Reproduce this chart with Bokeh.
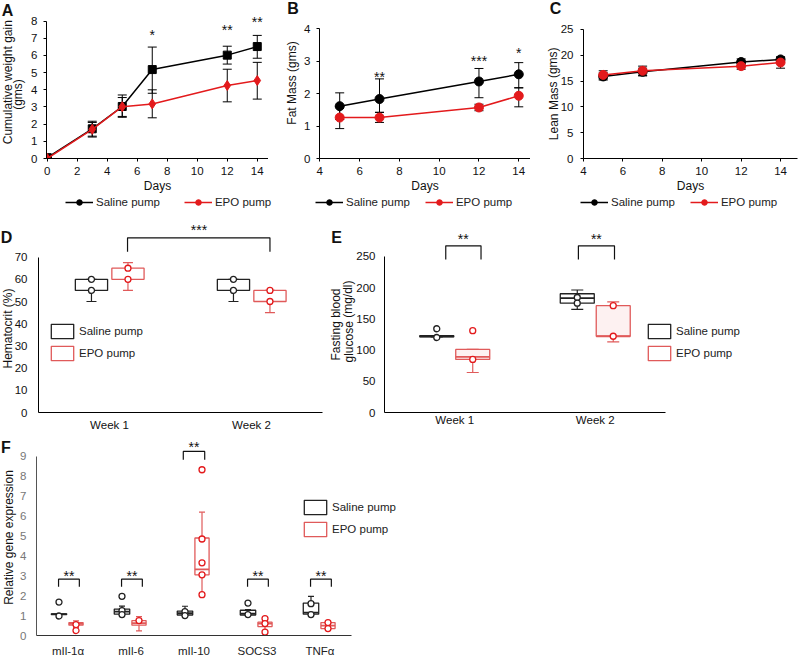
from bokeh.plotting import figure
from bokeh.layouts import row, column
from bokeh.models import (ColumnDataSource, Whisker, TeeHead, Label, Legend,
                          LegendItem, FactorRange, Range1d, FixedTicker)
from bokeh.transform import dodge
from bokeh.core.properties import value
from bokeh.embed import file_html
from bokeh.resources import INLINE

FONT = "Liberation Sans"
RED = "#e31a1c"
RED_BOX = "#e05a5a"
DARK = "#222222"
NAN = float("nan")

# ---------------- data ----------------
# Panel A: cumulative weight gain
days_a = [0, 3, 5, 7, 12, 14]
saline_a = [0.05, 1.73, 3.03, 5.18, 6.02, 6.52]
saline_a_lo = [0.05, 1.25, 2.40, 3.80, 5.50, 5.84]
saline_a_hi = [0.05, 2.17, 3.70, 6.49, 6.54, 7.17]
epo_a = [0.0, 1.70, 3.02, 3.18, 4.25, 4.54]
epo_a_lo = [0.0, 1.30, 2.45, 2.37, 3.30, 3.46]
epo_a_hi = [0.0, 2.10, 3.55, 4.00, 5.20, 5.60]
sig_a_days = [7, 12, 14]
sig_a_y = [7.19, 7.46, 7.95]
sig_a_text = ["*", "**", "**"]

# Panel B: fat mass
days_bc = [5, 7, 12, 14]
saline_b = [1.61, 1.83, 2.37, 2.59]
saline_b_lo = [1.20, 1.42, 1.87, 2.17]
saline_b_hi = [2.02, 2.45, 2.77, 2.95]
epo_b = [1.26, 1.26, 1.57, 1.93]
epo_b_lo = [0.92, 1.11, 1.47, 1.59]
epo_b_hi = [1.60, 1.42, 1.67, 2.18]
sig_b_days = [7, 12, 14]
sig_b_y = [2.51, 3.01, 3.26]
sig_b_text = ["**", "***", "*"]

# Panel C: lean mass
saline_c = [15.9, 16.8, 18.7, 19.2]
saline_c_lo = [15.2, 16.1, 18.1, 18.8]
saline_c_hi = [16.6, 17.5, 19.3, 19.6]
epo_c = [16.2, 17.0, 17.9, 18.6]
epo_c_lo = [15.4, 16.0, 17.3, 17.5]
epo_c_hi = [17.0, 17.9, 18.5, 19.7]

ticks_a_x = [0, 2, 4, 6, 8, 10, 12, 14]
ticks_a_y = [0, 1, 2, 3, 4, 5, 6, 7, 8]
ticks_bc_x = [4, 6, 8, 10, 12, 14]
ticks_b_y = [0, 1, 2, 3, 4]
ticks_c_y = [0, 5, 10, 15, 20, 25]

# Panel D: hematocrit (box stats)
weeks = ["Week 1", "Week 2"]
hct_sal_q1 = [55, 55]
hct_sal_q3 = [60, 60]
hct_sal_lo = [50, 50]
hct_sal_hi = [60, 60]
hct_sal_pts_cat = ["Week 1", "Week 1", "Week 2", "Week 2"]
hct_sal_pts = [60, 55, 60, 55]
hct_epo_q1 = [60, 50]
hct_epo_q3 = [65, 55]
hct_epo_lo = [55, 45]
hct_epo_hi = [67.5, 55]
hct_epo_pts_cat = ["Week 1", "Week 1", "Week 2", "Week 2"]
hct_epo_pts = [65, 60, 55, 50]
ticks_d_y = [0, 10, 20, 30, 40, 50, 60, 70]

# Panel E: fasting blood glucose
glu_sal_q1 = [121, 175]
glu_sal_q3 = [123, 190]
glu_sal_med = [122, 183]
glu_sal_lo = [121, 165]
glu_sal_hi = [123, 196]
glu_sal_pts_cat = ["Week 1", "Week 1", "Week 2", "Week 2"]
glu_sal_pts = [134, 120, 184, 175]
glu_epo_q1 = [85, 122]
glu_epo_q3 = [101, 171]
glu_epo_med = [89, 122]
glu_epo_lo = [64, 113]
glu_epo_hi = [101, 177]
glu_epo_pts_cat = ["Week 1", "Week 1", "Week 2", "Week 2"]
glu_epo_pts = [131, 85, 171, 122]
ticks_e_y = [0, 50, 100, 150, 200, 250]

# Panel F: relative gene expression
genes = ["mIl-1\u03b1", "mIl-6", "mIl-10", "SOCS3", "TNF\u03b1"]
gx_sal_q1 = [1.05, 1.07, 1.03, 1.03, 1.07]
gx_sal_q3 = [1.09, 1.33, 1.23, 1.27, 1.63]
gx_sal_med = [1.07, 1.20, 1.12, 1.10, 1.15]
gx_sal_lo = [1.05, 1.07, 1.00, 1.00, 1.07]
gx_sal_hi = [1.09, 1.48, 1.47, 1.30, 1.97]
gx_sal_pts_cat = [genes[0], genes[0], genes[1], genes[1], genes[1], genes[2], genes[2],
                  genes[3], genes[3], genes[4], genes[4]]
gx_sal_pts = [1.68, 0.98, 1.97, 1.25, 1.05, 1.20, 1.00, 1.63, 1.05, 1.60, 1.05]
gx_epo_q1 = [0.52, 0.52, 3.05, 0.45, 0.35]
gx_epo_q3 = [0.65, 0.75, 4.90, 0.67, 0.65]
gx_epo_med = [0.58, 0.62, 3.32, 0.60, 0.50]
gx_epo_lo = [0.40, 0.23, 2.03, 0.17, 0.35]
gx_epo_hi = [0.73, 0.95, 6.20, 0.87, 0.65]
gx_epo_pts_cat = [genes[0], genes[0], genes[1], genes[2], genes[2], genes[2], genes[2], genes[2],
                  genes[3], genes[3], genes[3], genes[4], genes[4]]
gx_epo_pts = [0.55, 0.25, 0.75, 8.33, 4.85, 3.65, 3.05, 2.05, 0.85, 0.60, 0.17, 0.65, 0.35]
ticks_f_y = [0, 1, 2, 3, 4, 5, 6, 7, 8, 9]

# Series names
SALINE = "Saline pump"
EPO = "EPO pump"


# ---------------- helpers ----------------
def make_fig(w, h, xr, yr, ml, mr, mt, mb):
    p = figure(width=w, height=h, x_range=xr, y_range=yr, output_backend="svg",
               toolbar_location=None, min_border_left=ml, min_border_right=mr,
               min_border_top=mt, min_border_bottom=mb)
    p.outline_line_color = None
    p.xgrid.visible = False
    p.ygrid.visible = False
    p.background_fill_color = "white"
    p.border_fill_color = "white"
    return p


def style_axis(ax, tick_out=0, standoff=5, color="#000000", label_color="#111111", size="11.5px"):
    ax.major_tick_out = tick_out
    ax.major_tick_in = 0
    ax.minor_tick_out = 0
    ax.minor_tick_in = 0
    ax.major_tick_line_color = color
    ax.axis_line_color = color
    ax.axis_line_width = 1
    ax.major_label_standoff = standoff
    ax.major_label_text_font = FONT
    ax.major_label_text_font_size = size
    ax.major_label_text_color = label_color


def make_legend(items, loc, orientation, spacing, gw, gh, standoff):
    return Legend(items=items, location=loc, orientation=orientation, spacing=spacing,
                  glyph_width=gw, glyph_height=gh, label_height=gh, label_standoff=standoff,
                  padding=0, margin=0, border_line_alpha=0, background_fill_alpha=0,
                  label_text_font=FONT, label_text_font_size="11.5px", label_text_color=DARK)


def add_series(p, xs, ys, lo, hi, color, marker, msize):
    src = ColumnDataSource(dict(x=xs, y=ys, lo=lo, hi=hi))
    p.add_layout(Whisker(source=src, base="x", upper="hi", lower="lo", line_color="black",
                         line_width=1,
                         upper_head=TeeHead(size=9, line_color="black", line_width=1),
                         lower_head=TeeHead(size=9, line_color="black", line_width=1)))
    p.line("x", "y", source=src, line_color=color, line_width=1.5)
    p.scatter("x", "y", source=src, marker=marker, size=msize, fill_color=color, line_color=color)


def add_stars(p, xs, ys, texts):
    src = ColumnDataSource(dict(x=xs, y=ys, t=texts))
    p.text("x", "y", text="t", source=src, text_font=value(FONT), text_font_size="14px",
           text_align="center", text_baseline="middle", text_color="#111111")


def add_boxes(p, cats, off, width, q1, q3, med, lo, hi, pcat, pval, color, pcolor, fill, cap):
    src = ColumnDataSource(dict(cat=cats, q1=q1, q3=q3, lo=lo, hi=hi))
    p.add_layout(Whisker(source=src, base=dodge("cat", off, range=p.x_range), upper="hi",
                         lower="lo", level="underlay", line_color=color, line_width=1.2,
                         upper_head=TeeHead(size=cap, line_color=color, line_width=1.2),
                         lower_head=TeeHead(size=cap, line_color=color, line_width=1.2)))
    box = p.vbar(x=dodge("cat", off, range=p.x_range), width=width, bottom="q1", top="q3",
                 source=src, fill_color=fill, line_color=color, line_width=1.3)
    if med is not None:
        msrc = ColumnDataSource(dict(cat=cats, med=med))
        p.segment(x0=dodge("cat", off - width / 2, range=p.x_range), y0="med",
                  x1=dodge("cat", off + width / 2, range=p.x_range), y1="med",
                  source=msrc, line_color=color, line_width=1.8)
    psrc = ColumnDataSource(dict(cat=pcat, v=pval))
    p.scatter(x=dodge("cat", off, range=p.x_range), y="v", source=psrc, marker="circle",
              size=6, fill_color="white", line_color=pcolor, line_width=1.3)
    return box


def add_bracket(p, cat_l, off_l, cat_r, off_r, y_end, y_top, star_y, text, star_off):
    src = ColumnDataSource(dict(x=[(cat_l, off_l), (cat_l, off_l), (cat_r, off_r), (cat_r, off_r)],
                                y=[y_end, y_top, y_top, y_end]))
    p.line("x", "y", source=src, line_color="#111111", line_width=1.2)
    add_stars(p, [(cat_l, star_off)], [star_y], [text])


# ---------------- Row 1: A, B, C ----------------
pA = make_fig(268, 220, Range1d(-0.05, 14.75), Range1d(0, 8.62), 46, 0, 10, 62)
style_axis(pA.xaxis[0], tick_out=3, standoff=5)
style_axis(pA.yaxis[0], tick_out=3, standoff=6)
pA.xaxis.ticker = FixedTicker(ticks=ticks_a_x)
pA.yaxis.ticker = FixedTicker(ticks=ticks_a_y)
pA.yaxis.bounds = (0, 8)
add_series(pA, days_a, saline_a, saline_a_lo, saline_a_hi, "black", "square", 8)
add_series(pA, days_a, epo_a, epo_a_lo, epo_a_hi, RED, "diamond", 10)
add_stars(pA, sig_a_days, sig_a_y, sig_a_text)

pB = make_fig(262, 220, Range1d(3.985, 14.59), Range1d(0, 4.554), 51, 0, 10, 62)
style_axis(pB.xaxis[0], tick_out=3, standoff=5)
style_axis(pB.yaxis[0], tick_out=3, standoff=6)
pB.xaxis.ticker = FixedTicker(ticks=ticks_bc_x)
pB.yaxis.ticker = FixedTicker(ticks=ticks_b_y)
pB.yaxis.bounds = (0, 4)
add_series(pB, days_bc, saline_b, saline_b_lo, saline_b_hi, "black", "circle", 9)
add_series(pB, days_bc, epo_b, epo_b_lo, epo_b_hi, RED, "circle", 9)
add_stars(pB, sig_b_days, sig_b_y, sig_b_text)

pC = make_fig(269, 220, Range1d(4.0, 14.86), Range1d(0, 28.68), 53, 2, 10, 62)
style_axis(pC.xaxis[0], tick_out=3, standoff=5)
style_axis(pC.yaxis[0], tick_out=3, standoff=7)
pC.xaxis.ticker = FixedTicker(ticks=ticks_bc_x)
pC.yaxis.ticker = FixedTicker(ticks=ticks_c_y)
pC.yaxis.bounds = (0, 25)
add_series(pC, days_bc, saline_c, saline_c_lo, saline_c_hi, "black", "circle", 9)
add_series(pC, days_bc, epo_c, epo_c_lo, epo_c_hi, RED, "circle", 9)

for p in (pA, pB, pC):
    p.xaxis.axis_label = "Days"
    p.xaxis.axis_label_text_font = FONT
    p.xaxis.axis_label_text_font_size = "12px"
    p.xaxis.axis_label_text_font_style = "normal"
    p.xaxis.axis_label_text_color = "#111111"
    p.xaxis.axis_label_standoff = 1

# ---------------- Row 2: D, E ----------------
pD = make_fig(330, 220, FactorRange(factors=weeks), Range1d(0, 85.6), 38, 8, 2, 28)
style_axis(pD.xaxis[0], standoff=6)
style_axis(pD.yaxis[0], standoff=11)
pD.yaxis.ticker = FixedTicker(ticks=ticks_d_y)
pD.yaxis.bounds = (0, 70)
box_d_sal = add_boxes(pD, weeks, -0.127, 0.227, hct_sal_q1, hct_sal_q3, None, hct_sal_lo, hct_sal_hi,
                      hct_sal_pts_cat, hct_sal_pts, DARK, DARK, "white", 10)
box_d_epo = add_boxes(pD, weeks, 0.13, 0.227, hct_epo_q1, hct_epo_q3, None, hct_epo_lo, hct_epo_hi,
                      hct_epo_pts_cat, hct_epo_pts, RED_BOX, RED, "white", 10)
add_bracket(pD, "Week 1", 0.127, "Week 2", 0.13, 72.4, 78.7, 82.2, "***", 0.63)
pD.add_layout(make_legend([LegendItem(label=SALINE, renderers=[box_d_sal]),
                           LegendItem(label=EPO, renderers=[box_d_epo])],
                          (10, 50), "vertical", 4, 28, 18, 3))

pE = make_fig(469, 220, FactorRange(factors=weeks), Range1d(0, 304), 54, 134, 2, 28)
style_axis(pE.xaxis[0], standoff=1)
style_axis(pE.yaxis[0], standoff=9)
pE.yaxis.ticker = FixedTicker(ticks=ticks_e_y)
pE.yaxis.bounds = (0, 250)
add_boxes(pE, weeks, -0.128, 0.242, glu_sal_q1, glu_sal_q3, glu_sal_med, glu_sal_lo, glu_sal_hi,
          glu_sal_pts_cat, glu_sal_pts, DARK, DARK, "white", 12)
add_boxes(pE, weeks, 0.128, 0.242, glu_epo_q1, glu_epo_q3, glu_epo_med, glu_epo_lo, glu_epo_hi,
          glu_epo_pts_cat, glu_epo_pts, RED_BOX, RED, "#fdf1f1", 12)
add_bracket(pE, "Week 1", -0.064, "Week 1", 0.187, 245, 266.7, 277, "**", 0.06)
add_bracket(pE, "Week 2", -0.12, "Week 2", 0.137, 245, 266.7, 277, "**", 0.008)

# ---------------- Row 3: F ----------------
pF = make_fig(799, 219, FactorRange(factors=genes), Range1d(0, 9.8), 36, 448, 0, 23)
style_axis(pF.xaxis[0], standoff=9, color="#333333", label_color=DARK)
style_axis(pF.yaxis[0], standoff=10, color="#555555", label_color="#777777")
pF.yaxis.ticker = FixedTicker(ticks=ticks_f_y)
pF.yaxis.bounds = (0, 9)
add_boxes(pF, genes, -0.143, 0.245, gx_sal_q1, gx_sal_q3, gx_sal_med, gx_sal_lo, gx_sal_hi,
          gx_sal_pts_cat, gx_sal_pts, DARK, DARK, "white", 6)
add_boxes(pF, genes, 0.127, 0.225, gx_epo_q1, gx_epo_q3, gx_epo_med, gx_epo_lo, gx_epo_hi,
          gx_epo_pts_cat, gx_epo_pts, RED_BOX, RED, "white", 6)
for g in (genes[0], genes[1], genes[3], genes[4]):
    add_bracket(pF, g, -0.15, g, 0.18, 2.45, 2.83, 3.0, "**", 0.015)
add_bracket(pF, genes[2], -0.17, genes[2], 0.17, 8.83, 9.25, 9.45, "**", 0.0)

# ---------------- overlay: panel letters, axis titles, outer legends ----------------
ov = figure(width=799, height=659, x_range=Range1d(0, 799), y_range=Range1d(659, 0),
            output_backend="svg", toolbar_location=None,
            x_axis_location=None, y_axis_location=None,
            min_border_left=0, min_border_right=0, min_border_top=0, min_border_bottom=0)
ov.outline_line_color = None
ov.xgrid.visible = False
ov.ygrid.visible = False
ov.background_fill_alpha = 0
ov.border_fill_alpha = 0


def ov_label(text, x, y, size="12px", bold=False, angle=0.0):
    ov.add_layout(Label(x=x, y=y, text=text, angle=angle, text_align="center",
                        text_baseline="middle", text_font=FONT, text_font_size=size,
                        text_color="#111111", text_font_style="bold" if bold else "normal"))


ROT = 1.5708
for letter, lx, ly in (("A", 7, 10), ("B", 292.5, 8), ("C", 555, 8),
                       ("D", 6, 236.7), ("E", 336, 237), ("F", 5.5, 446.7)):
    ov_label(letter, lx, ly, size="16px", bold=True)
ov_label("Cumulative weight gain", 7.2, 81.7, angle=ROT)
ov_label("(gms)", 17.5, 94, angle=ROT)
ov_label("Fat Mass (gms)", 291.7, 82.5, angle=ROT)
ov_label("Lean Mass (gms)", 553, 93.3, angle=ROT)
ov_label("Hematocrit (%)", 7.5, 328, angle=ROT)
ov_label("Fasting blood", 335.5, 324, angle=ROT)
ov_label("glucose (mg/dl)", 348, 321, angle=ROT)
ov_label("Relative gene expression", 8.3, 537, angle=ROT)

# legend key glyphs (a single NaN placeholder each: nothing is drawn, only the key)
ln_sal = ov.line(x=[NAN], y=[NAN], line_color="black", line_width=1.5)
mk_sal = ov.scatter(x=[NAN], y=[NAN], marker="circle", size=5, fill_color="black", line_color="black")
ln_epo = ov.line(x=[NAN], y=[NAN], line_color=RED, line_width=1.5)
mk_epo = ov.scatter(x=[NAN], y=[NAN], marker="circle", size=5, fill_color=RED, line_color=RED)
bx_sal = ov.vbar(x=[NAN], top=[NAN], bottom=[NAN], width=1, fill_color="white",
                 line_color=DARK, line_width=1.3)
bx_epo = ov.vbar(x=[NAN], top=[NAN], bottom=[NAN], width=1, fill_color="white",
                 line_color=RED_BOX, line_width=1.3)

for lx, sp in ((65, 24), (315, 15), (580, 15)):
    ov.add_layout(make_legend([LegendItem(label=SALINE, renderers=[ln_sal, mk_sal]),
                               LegendItem(label=EPO, renderers=[ln_epo, mk_epo])],
                              (lx, 450), "horizontal", sp, 28, 14, 3))
ov.add_layout(make_legend([LegendItem(label=SALINE, renderers=[bx_sal]),
                           LegendItem(label=EPO, renderers=[bx_epo])],
                          (645, 297), "vertical", 4, 28, 18, 3))
ov.add_layout(make_legend([LegendItem(label=SALINE, renderers=[bx_sal]),
                           LegendItem(label=EPO, renderers=[bx_epo])],
                          (301, 121), "vertical", 4, 28, 18, 3))

root = column(row(pA, pB, pC), row(pD, pE), row(pF), row(ov, styles={"margin-top": "-659px"}))

open("out.html", "w").write(file_html(root, INLINE))
